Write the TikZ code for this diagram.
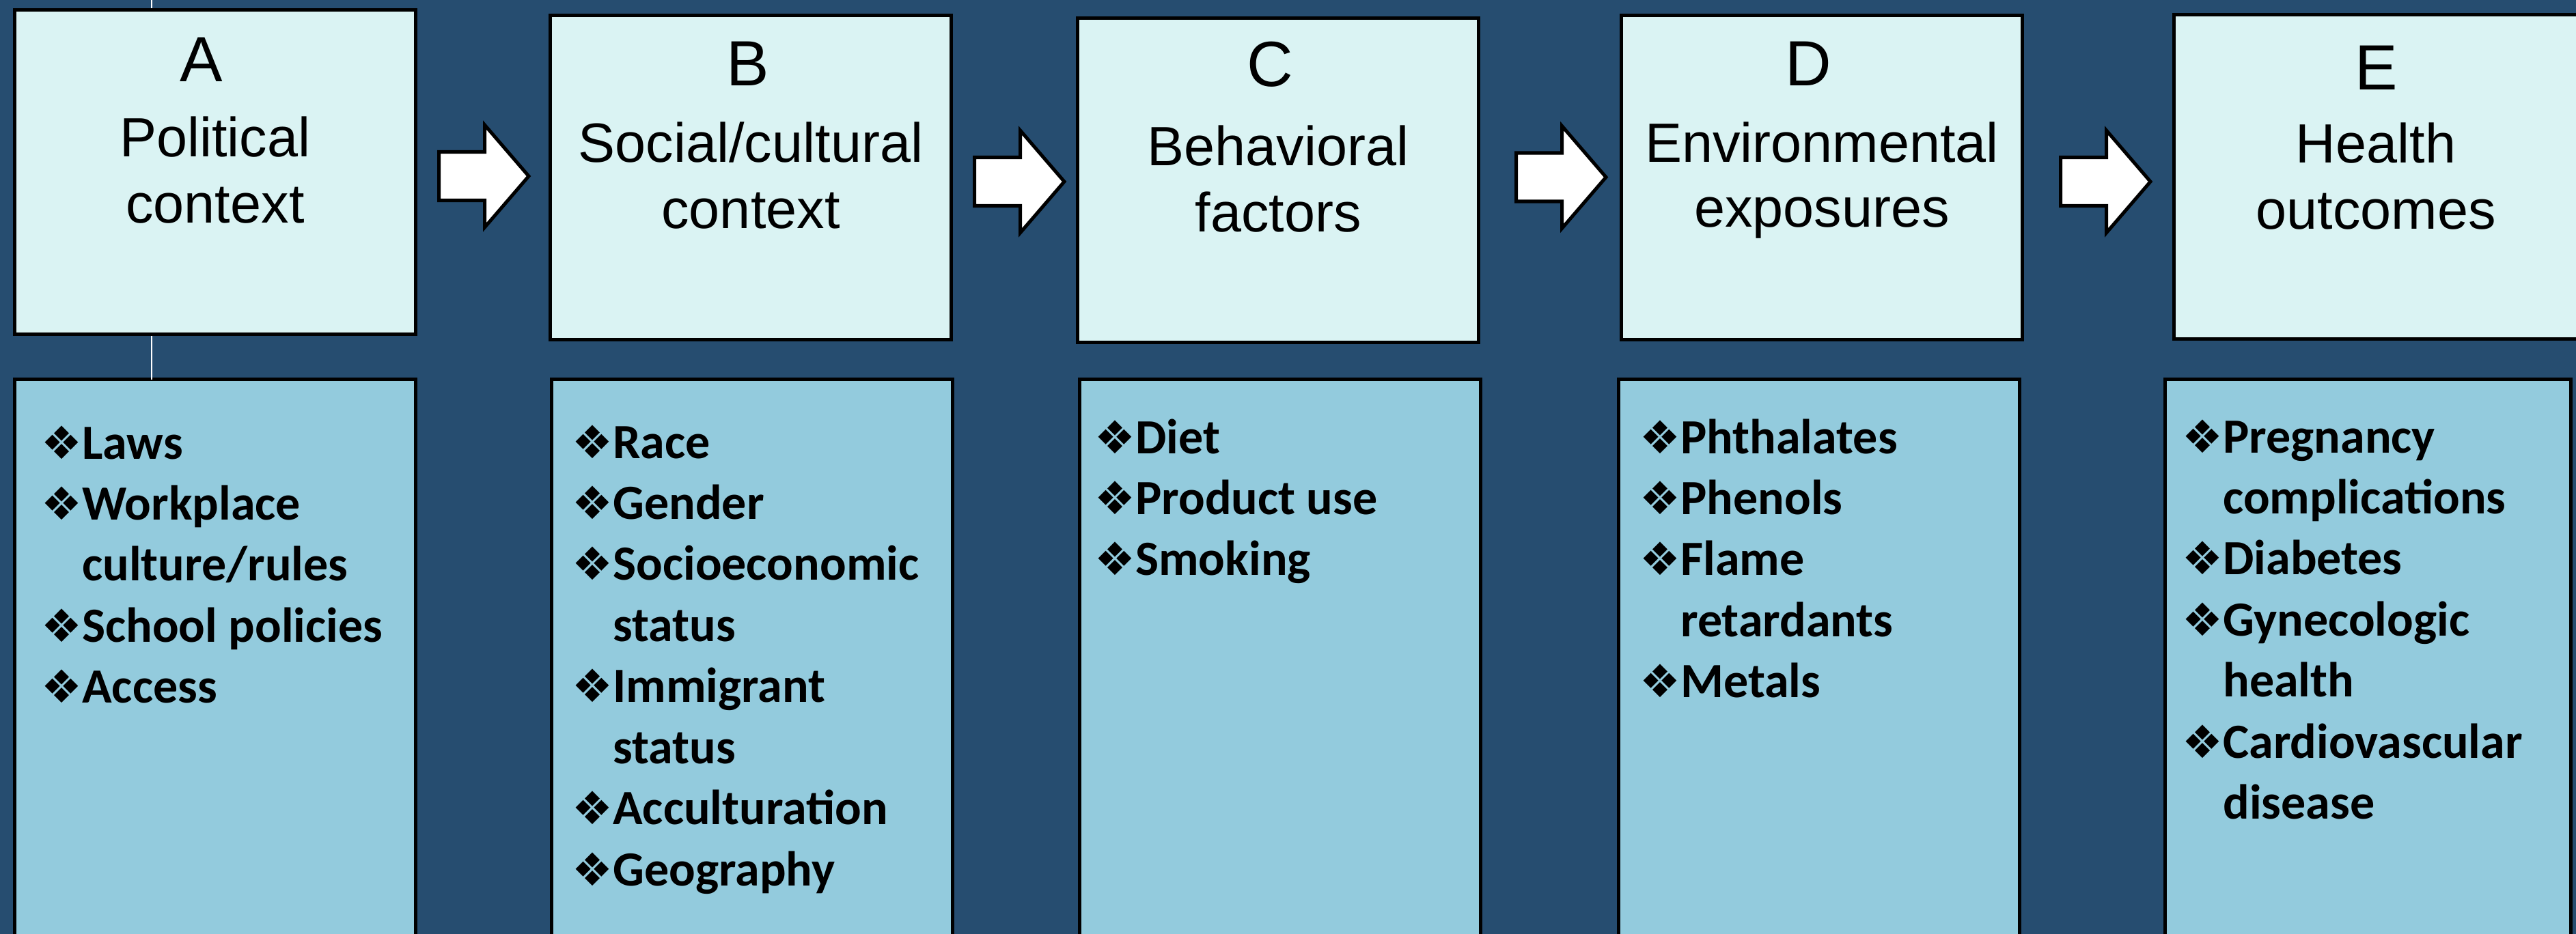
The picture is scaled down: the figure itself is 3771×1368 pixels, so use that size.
\documentclass[tikz,border=0pt]{standalone}
\usepackage{fontspec}
\setmainfont{Liberation Sans}
\newfontfamily\bulfont{Carlito}
\newfontfamily\symfont{DejaVu Sans}
\definecolor{bgblue}{RGB}{38,77,112}
\definecolor{topfill}{RGB}{218,243,243}
\definecolor{lowfill}{RGB}{147,203,221}
% 1 px = 0.02cm = 0.569055pt
\newcommand\bl{\makebox[34.14pt][l]{\symfont\mdseries\fontsize{38}{38}\selectfont ❖}}
\newcommand\li[1]{\hbox{\bl #1}}
\newcommand\lc[1]{\hbox{\hskip 34.14pt #1}}
\begin{document}
\begin{tikzpicture}[x=0.02cm,y=-0.02cm,
  topbox/.style={draw=black, line width=2.85pt, fill=topfill, minimum width=334.04pt, minimum height=270.3pt, anchor=north west, inner sep=0pt, outer sep=0pt},
  lowbox/.style={draw=black, line width=2.85pt, fill=lowfill, minimum width=334.04pt, minimum height=480.85pt, anchor=north west, inner sep=0pt, outer sep=0pt},
  letter/.style={anchor=base, inner sep=0pt, font=\fontsize{53.3}{60}\selectfont},
  ttl/.style={anchor=base, inner sep=0pt, font=\fontsize{46.1}{55}\selectfont},
  items/.style={anchor=base west, inner sep=0pt, font=\bulfont\bfseries\fontsize{41}{50.9}\selectfont},
  barrow/.style={draw=black, line width=2.85pt, fill=white, line join=miter},
  wline/.style={draw=white, line width=1.4pt}]
\useasboundingbox (0,0) rectangle (3771,1368);
\clip (0,0) rectangle (3771,1368);
\fill[bgblue] (0,0) rectangle (3771,1368);

% lower boxes
\node[lowbox] (lA) at (21.5,555.5) {};
\node[lowbox] (lB) at (807.5,555.5) {};
\node[lowbox] (lC) at (1580.5,555.5) {};
\node[lowbox] (lD) at (2369.5,555.5) {};
\node[lowbox, minimum width=338.02pt] (lE) at (3169.5,555.5) {};

% white line
\coordinate (wtop) at (222,0);
\draw[wline] (wtop) -- (wtop |- lA.north);

% top boxes
\node[topbox] (A) at (21.5,14.5) {};
\node[topbox] (B) at (805.5,22.5) {};
\node[topbox] (C) at (1577.5,26.5) {};
\node[topbox] (D) at (2373.5,22.5) {};
\node[topbox, minimum width=352.81pt] (E) at (3182.5,21.5) {};

% titles
\node[letter] (tA) at (295,120) {A};
\node[ttl] (tA1) at (315,230) {Political};
\node[ttl] (tA2) at (315,327) {context};
\node[letter] (tB) at (1095,126) {B};
\node[ttl] (tB1) at (1099,238) {Social/cultural};
\node[ttl] (tB2) at (1099,335) {context};
\node[letter] (tC) at (1859,127) {C};
\node[ttl] (tC1) at (1871,243) {Behavioral};
\node[ttl] (tC2) at (1871,339) {factors};
\node[letter] (tD) at (2647,126) {D};
\node[ttl] (tD1) at (2667,238) {Environmental};
\node[ttl] (tD2) at (2667,333) {exposures};
\node[letter] (tE) at (3479,132) {E};
\node[ttl] (tE1) at (3478,239) {Health};
\node[ttl] (tE2) at (3478,336) {outcomes};

% block arrows
\foreach \nm/\tx/\ty in {ab/642.5/258, bc/1426.5/266, cd/2219.5/259.5, de/3016.5/266}{
  \coordinate (\nm) at (\tx,\ty);
  \draw[barrow] (\nm) ++(0,-35.5) -- ++(67,0) -- ++(0,-39.5) -- ++(64.5,75) -- ++(-64.5,75) -- ++(0,-39.5) -- ++(-67,0) -- cycle;
}

% bullet lists
\node[items] (iA) at (60,672) {\vtop{\li{Laws}\li{Workplace}\lc{culture/rules}\li{School policies}\li{Access}}};
\node[items] (iB) at (837,671) {\vtop{\li{Race}\li{Gender}\li{Socioeconomic}\lc{status}\li{Immigrant}\lc{status}\li{Acculturation}\li{Geography}}};
\node[items] (iC) at (1602,664) {\vtop{\li{Diet}\li{Product use}\li{Smoking}}};
\node[items] (iD) at (2400,664) {\vtop{\li{Phthalates}\li{Phenols}\li{Flame}\lc{retardants}\li{Metals}}};
\node[items] (iE) at (3194,663) {\vtop{\li{Pregnancy}\lc{complications}\li{Diabetes}\li{Gynecologic}\lc{health}\li{Cardiovascular}\lc{disease}}};
\end{tikzpicture}
\end{document}
